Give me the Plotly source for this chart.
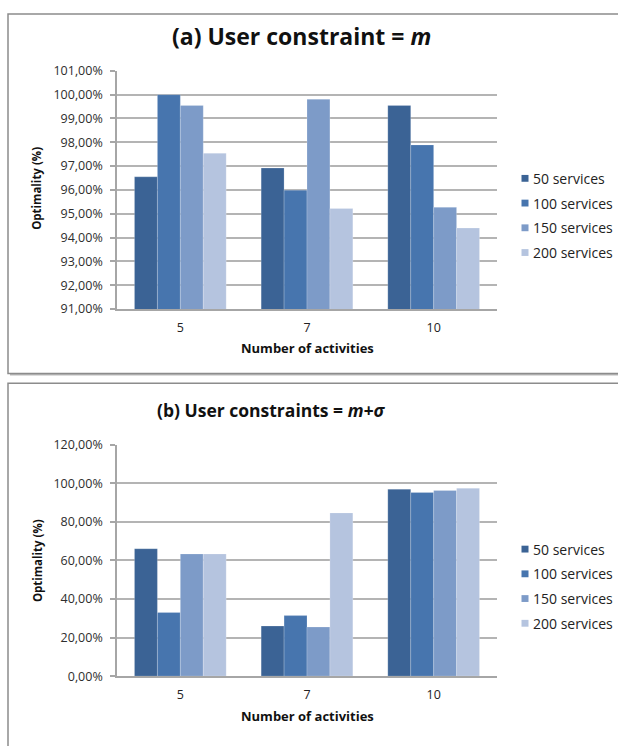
import plotly.graph_objects as go

W, H = 618, 746

# Categories and series
activities = ["5", "7", "10"]
series_names = ["50 services", "100 services", "150 services", "200 services"]
series_colors = ["#3B6395", "#4775AE", "#7D9BC8", "#B5C4DF"]

# (a) user constraint = m  (optimality, %)
opt_m_50 = [96.55, 96.92, 99.55]
opt_m_100 = [100.00, 95.99, 97.89]
opt_m_150 = [99.55, 99.81, 95.27]
opt_m_200 = [97.54, 95.22, 94.40]

# (b) user constraints = m + sigma  (optimality, %)
opt_ms_50 = [66.1, 26.0, 97.0]
opt_ms_100 = [33.0, 31.4, 95.3]
opt_ms_150 = [63.4, 25.5, 96.3]
opt_ms_200 = [63.4, 84.7, 97.5]

panel_a = [opt_m_50, opt_m_100, opt_m_150, opt_m_200]
panel_b = [opt_ms_50, opt_ms_100, opt_ms_150, opt_ms_200]


def px(x):
    return x / W


def py(y):
    return 1 - y / H


FONT = "Open Sans"
fig = go.Figure()

for vals_list, xa, ya in [(panel_a, "x", "y"), (panel_b, "x2", "y2")]:
    for name, color, vals in zip(series_names, series_colors, vals_list):
        fig.add_trace(go.Bar(
            x=activities, y=vals, name=name, xaxis=xa, yaxis=ya,
            marker=dict(color=color, line=dict(color="rgba(255,255,255,0.25)", width=0.8)),
            showlegend=False,
        ))

grid = "#B4B4B4"
axis_common = dict(
    showgrid=True, gridcolor=grid, gridwidth=2,
    showline=True, linecolor="#A6A6A6", linewidth=1.5,
    ticks="outside", ticklen=5, tickcolor="#A6A6A6", tickwidth=1.5,
    tickfont=dict(family=FONT, size=12.5, color="#2E2E2E"),
    ticksuffix="%", tickformat=".2f", ticklabelstandoff=5,
    zeroline=False, fixedrange=True,
)
xaxis_common = dict(
    type="category", showgrid=False, showline=True, linecolor="#A6A6A6", linewidth=1.5,
    ticks="", tickfont=dict(family=FONT, size=12.5, color="#222222"),
    ticklabelstandoff=6, fixedrange=True,
)

xdom = [px(117), px(497)]
fig.update_layout(
    width=W, height=H, autosize=False,
    margin=dict(l=0, r=0, t=0, b=0),
    paper_bgcolor="white", plot_bgcolor="rgba(0,0,0,0)",
    separators=", ",
    barmode="group", bargap=0.276, bargroupgap=0,
    showlegend=False,
    xaxis=dict(domain=xdom, anchor="y", **xaxis_common),
    yaxis=dict(domain=[py(307), py(63.3)], anchor="x", range=[91, 101], dtick=1, **axis_common),
    xaxis2=dict(domain=xdom, anchor="y2", **xaxis_common),
    yaxis2=dict(domain=[py(682.7), py(446)], anchor="x2", range=[0, 120], dtick=20, **axis_common),
)

shapes = []
annotations = []


def label(text, x, y, size, bold=False, angle=0, xanchor="center", color="#111111"):
    annotations.append(dict(
        text=f"<b>{text}</b>" if bold else text, x=px(x), y=py(y),
        xref="paper", yref="paper", xanchor=xanchor, yanchor="middle",
        showarrow=False, textangle=angle,
        font=dict(family=FONT, size=size, color=color),
    ))


# Chart frames with a soft shadow
for top, bottom in [(5, 373), (383, 760)]:
    shapes.append(dict(type="rect", xref="paper", yref="paper", layer="below",
                       x0=px(10), x1=px(640), y0=py(bottom + 2), y1=py(top + 2),
                       fillcolor="rgba(0,0,0,0.28)", line=dict(width=0)))
    shapes.append(dict(type="rect", xref="paper", yref="paper", layer="below",
                       x0=px(8), x1=px(640), y0=py(bottom), y1=py(top),
                       fillcolor="white", line=dict(color="#8C8C8C", width=1.5)))

# Titles
label("(a) User constraint = <i>m</i>", 301, 28, 23, bold=True)
label("(b) User constraints = <i>m+σ</i>", 271, 410, 17.5, bold=True)

# Axis titles
for xt_y, yt_y in [(347, 184), (723, 565)]:
    label("Number of activities", 307, xt_y, 13, bold=True)
    label("Optimality (%)", 37, yt_y, 11.5, bold=True, angle=-90)

# Legends
for first_y in [173.3, 552.7]:
    for i, (name, color) in enumerate(zip(series_names, series_colors)):
        cy = first_y + i * 25.3
        shapes.append(dict(type="rect", xref="paper", yref="paper",
                           x0=px(521.5), x1=px(528.5), y0=py(cy + 3.5), y1=py(cy - 3.5),
                           fillcolor=color, line=dict(width=0)))
        label(name, 531, cy, 14, xanchor="left", color="#222222")

fig.update_layout(shapes=shapes, annotations=annotations)

fig.write_html("out.html")
